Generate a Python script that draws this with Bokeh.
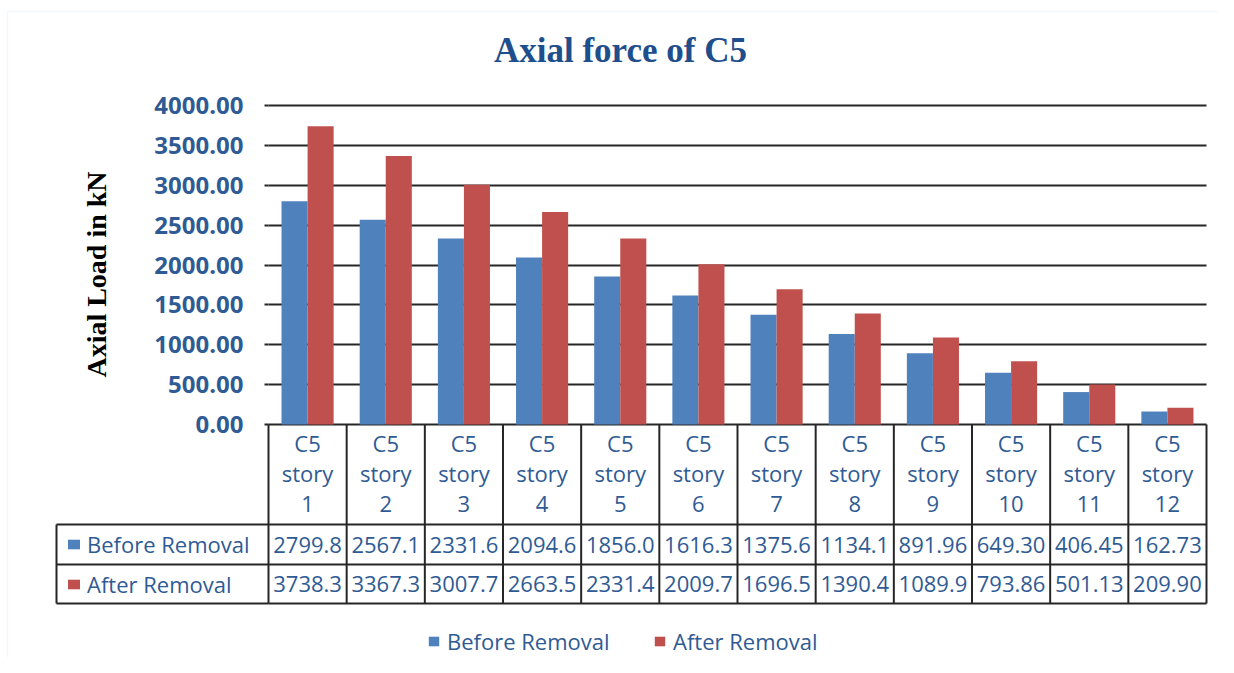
import math
from bokeh.plotting import figure
from bokeh.models import (ColumnDataSource, Range1d, FixedTicker, PrintfTickFormatter,
                          Legend, LegendItem, BoxAnnotation, Label, Grid)
from bokeh.core.properties import value
from bokeh.embed import file_html
from bokeh.resources import INLINE

# ---------------- data ----------------
categories = ["C5 story 1", "C5 story 2", "C5 story 3", "C5 story 4", "C5 story 5",
              "C5 story 6", "C5 story 7", "C5 story 8", "C5 story 9", "C5 story 10",
              "C5 story 11", "C5 story 12"]
before_removal = [2799.8, 2567.1, 2331.6, 2094.6, 1856.0, 1616.3, 1375.6, 1134.1,
                  891.96, 649.30, 406.45, 162.73]
after_removal = [3738.3, 3367.3, 3007.7, 2663.5, 2331.4, 2009.7, 1696.5, 1390.4,
                 1089.9, 793.86, 501.13, 209.90]
y_ticks = [0, 500, 1000, 1500, 2000, 2500, 3000, 3500, 4000]
series_names = ["Before Removal", "After Removal"]
chart_title = "Axial force of C5"
y_title = "Axial Load in kN"


def fmt(v):
    return f"{v:.1f}" if v >= 1000 else f"{v:.2f}"


before_labels = [fmt(v) for v in before_removal]
after_labels = [fmt(v) for v in after_removal]
header_labels = [c.replace(" ", "\n") for c in categories]

# ---------------- layout helpers (pixel -> data) ----------------
W, H = 1218, 657
N = len(categories)
X0, X1 = 268, 1206          # plot area left/right (px)
Y0PX, Y4000PX = 424, 105    # pixel rows of value 0 and 4000
CW = (X1 - X0) / N          # px per category
PX = 4000 / (Y0PX - Y4000PX)  # data units per px


def xd(px):
    return (px - X0) / CW


def yd(py):
    return (Y0PX - py) * PX


BLUE = "#4F81BD"
RED = "#C0504D"
TXT = "#2F5B94"
LINE = "#262626"

p = figure(width=W, height=H,
           x_range=Range1d(xd(0), xd(W)), y_range=Range1d(yd(H), yd(0)),
           output_backend="svg", toolbar_location=None,
           x_axis_location=None, y_axis_location="left",
           min_border_left=0, min_border_right=0, min_border_top=0, min_border_bottom=0)
p.outline_line_color = None
p.background_fill_color = "white"
p.border_fill_color = "white"
p.xgrid.visible = False

# y axis, drawn at the plot-area's left edge
ticker = FixedTicker(ticks=y_ticks)
yaxis = p.yaxis[0]
yaxis.fixed_location = 0
yaxis.ticker = ticker
yaxis.formatter = PrintfTickFormatter(format="%.2f")
yaxis.axis_line_color = None
yaxis.major_tick_out = 4
yaxis.major_tick_in = 0
yaxis.major_tick_line_color = LINE
yaxis.major_tick_line_width = 2
yaxis.minor_tick_line_color = None
yaxis.major_label_standoff = 21
yaxis.major_label_text_font = "Open Sans"
yaxis.major_label_text_font_style = "bold"
yaxis.major_label_text_font_size = "24px"
yaxis.major_label_text_color = TXT

grid = p.ygrid[0]
grid.ticker = ticker
grid.grid_line_color = LINE
grid.grid_line_width = 2
use_cross = "cross_bounds" in Grid.properties()
if use_cross:
    grid.cross_bounds = (0, N)
else:
    grid.visible = False
    p.segment(x0=[0] * len(y_ticks), y0=y_ticks, x1=[N] * len(y_ticks), y1=y_ticks,
              line_color=LINE, line_width=2)

x_center = [i + 0.5 for i in range(N)]
src = ColumnDataSource(dict(x=x_center, cat=categories, before=before_removal,
                            after=after_removal, header=header_labels,
                            bl=before_labels, al=after_labels))

r1 = p.vbar(x=[c - 1 / 6 for c in x_center], top=before_removal, width=1 / 3,
            fill_color=BLUE, line_color=None)
r2 = p.vbar(x=[c + 1 / 6 for c in x_center], top=after_removal, width=1 / 3,
            fill_color=RED, line_color=None)

# ---------------- data table ----------------
row_lines_px = [524, 564, 603]
left_edge = xd(56)
vx = list(range(N + 1))
seg_x0 = vx + [0] * 3 + [left_edge] * 3 + [left_edge]
seg_x1 = vx + [N] * 3 + [0] * 3 + [left_edge]
seg_y0 = [0] * (N + 1) + [yd(r) for r in row_lines_px] * 2 + [yd(524)]
seg_y1 = [yd(603)] * (N + 1) + [yd(r) for r in row_lines_px] * 2 + [yd(603)]
p.segment(x0=seg_x0, y0=seg_y0, x1=seg_x1, y1=seg_y1, line_color=LINE, line_width=2)

common = dict(text_align="center", text_baseline="middle", text_font=value("Open Sans"),
              text_font_size="22px", text_color=TXT, source=src)
p.text(x="x", y=yd(472), text="header", text_line_height=1.0, **common)
p.text(x="x", y=yd(544), text="bl", **common)
p.text(x="x", y=yd(583.5), text="al", **common)

row_legend = Legend(items=[LegendItem(label=series_names[0], renderers=[r1]),
                           LegendItem(label=series_names[1], renderers=[r2])],
                    location=(66, H - 604), orientation="vertical", padding=0, margin=0,
                    spacing=0, label_height=40, glyph_width=15, glyph_height=12,
                    label_standoff=6, border_line_color=None, background_fill_alpha=0,
                    label_text_font="Open Sans", label_text_font_size="22px",
                    label_text_color=TXT)
p.add_layout(row_legend, "center")

main_legend = Legend(items=[LegendItem(label=series_names[0], renderers=[r1]),
                            LegendItem(label=series_names[1], renderers=[r2])],
                     location=(427, H - 656), orientation="horizontal", padding=0, margin=0,
                     spacing=35, label_height=30, label_width=171, glyph_width=13,
                     glyph_height=12, label_standoff=7, border_line_color=None,
                     background_fill_alpha=0, label_text_font="Open Sans",
                     label_text_font_size="22px", label_text_color=TXT)
p.add_layout(main_legend, "center")

# titles
p.add_layout(Label(x=xd(620), y=yd(50), text=chart_title, text_align="center",
                   text_baseline="middle", text_font="Liberation Serif",
                   text_font_style="bold", text_font_size="35px", text_color="#1F4E8C"))
p.add_layout(Label(x=xd(96), y=yd(274), text=y_title, angle=math.pi / 2,
                   text_align="center", text_baseline="middle",
                   text_font="Liberation Serif", text_font_style="bold",
                   text_font_size="28px", text_color="black"))

# chart area border (left and top edges visible)
p.add_layout(BoxAnnotation(left=xd(7), right=xd(W + 50), top=yd(11), bottom=yd(H + 50),
                           fill_color=None, fill_alpha=0,
                           line_color="#DCE6F2", line_width=1.5))

open("out.html", "w").write(file_html(p, INLINE))
